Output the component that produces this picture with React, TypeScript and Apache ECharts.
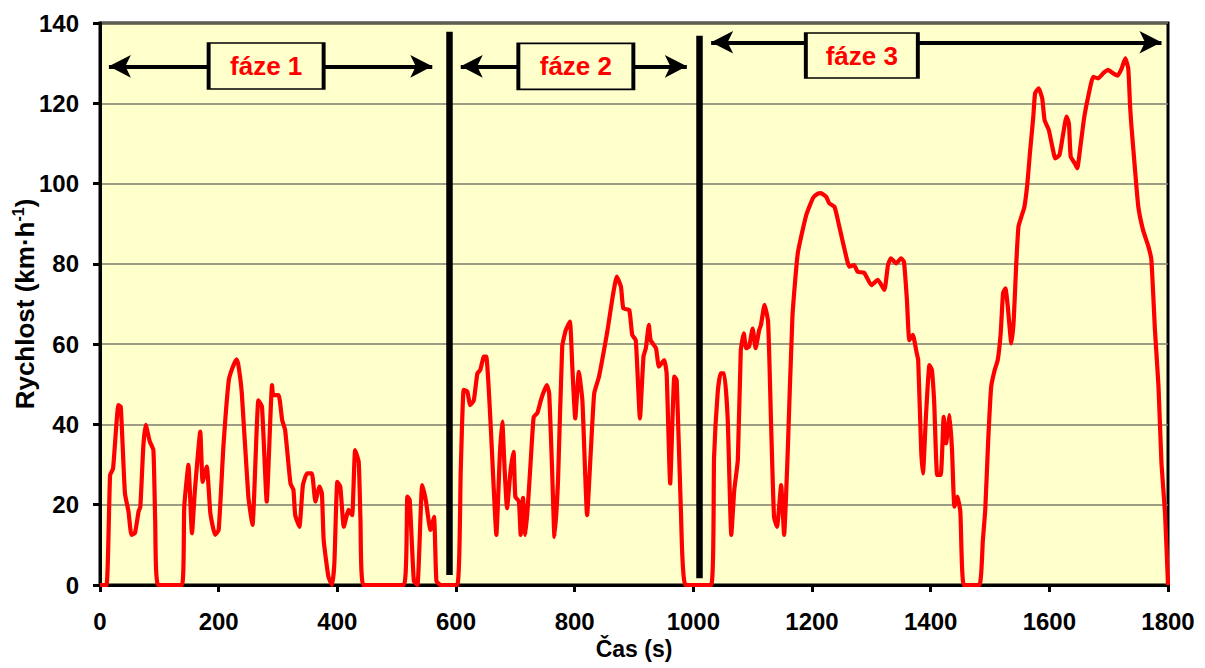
import React, { useEffect, useRef } from "react";
import * as echarts from "echarts";

// Time (s) and speed (km/h)
const times = [
  0, 11, 17, 22, 31, 35, 42, 48, 53, 59, 65, 68, 73, 77, 84, 90, 93, 98,
  138, 142, 149, 155, 160, 169, 173, 180, 186, 194, 200, 208, 217, 223, 230, 233,
  239, 250, 257, 267, 273, 281, 290, 292, 301, 307, 312, 321, 326, 329, 336, 342,
  349, 357, 363, 370, 374, 377, 385, 391, 395, 400, 405, 411, 419, 425, 430, 436,
  439, 444, 512, 518, 522, 529, 535, 543, 549, 557, 563, 567, 574,
  602, 608, 613, 619, 624, 630, 636, 641, 647, 651, 658, 664, 668, 674, 678, 682,
  686, 692, 697, 700, 706, 709, 713, 717, 721, 726, 731, 737, 743, 748, 753, 757,
  762, 766, 772, 779, 785, 792, 796, 801, 807, 813, 821, 827, 833, 841, 847, 855,
  864, 871, 878, 882, 892, 897, 903, 910, 916, 920, 925, 928, 937, 942, 951, 955,
  961, 968, 972, 979, 987, 1030,
  1035, 1041, 1046, 1052, 1058, 1064, 1069, 1075, 1080, 1085, 1089, 1094, 1100,
  1105, 1111, 1114, 1120, 1126, 1131, 1136, 1141, 1148, 1153, 1159, 1167, 1176,
  1190, 1202, 1210, 1215, 1224, 1229, 1238, 1246, 1255, 1263, 1271, 1277, 1288,
  1300, 1311, 1322, 1328, 1333, 1342, 1350, 1355, 1360, 1364, 1370, 1376, 1379,
  1384, 1387, 1392, 1398, 1402, 1406, 1411, 1417, 1422, 1426, 1432, 1436, 1440,
  1445, 1450, 1456, 1482, 1488, 1492, 1497, 1502, 1508, 1513, 1518, 1522, 1526,
  1530, 1536, 1540, 1544, 1548, 1553, 1558, 1563, 1567, 1573, 1576, 1582, 1588,
  1592, 1599, 1605, 1610, 1617, 1623, 1629, 1633, 1636, 1643, 1647, 1653, 1659,
  1666, 1674, 1682, 1691, 1699, 1707, 1715, 1722, 1728, 1733, 1736, 1738, 1744,
  1750, 1758, 1767, 1772, 1778, 1784, 1789, 1795, 1800,
];
const speeds = [
  0, 0, 27.4, 29, 44.8, 44.4, 22.9, 18.3, 12.5, 13, 18.3, 19.5, 34.5, 39.9, 35.7, 33.6, 16.2, 0,
  0, 19.5, 29.9, 12.9, 23.7, 38.2, 25.7, 29.5, 17.9, 12.5, 13.7, 34.5, 51, 54, 56.2, 55,
  47.8, 22, 15, 46, 44.4, 20.8, 49.8, 47.3, 47.3, 41.1, 38.6, 25.3, 23.7, 17.4, 14.5, 24.9,
  27.8, 27.8, 20.8, 24.5, 22.8, 11.2, 2, 0, 5.4, 25.7, 24.5, 14.5, 18.7, 17.4, 33.6, 30.7,
  16.2, 0, 0, 22, 21.2, 1, 0, 24.9, 21.2, 13.7, 17, 1, 0,
  0, 28.6, 48.6, 48.2, 44.8, 46, 52.7, 53.6, 56.9, 56.9, 41.1, 22.8, 12.5, 32.8, 40.7, 28.6,
  19.1, 28.6, 33.2, 22, 20.8, 12.5, 21.7, 12.5, 19.5, 31.1, 41.9, 42.8, 46, 48.2, 49.8, 47.8,
  28.6, 12, 26.2, 59.4, 63.5, 65.6, 54.4, 41.5, 53.1, 46, 17.4, 32.8, 47.8, 51.9, 56.5, 63.1,
  71.8, 76.8, 74.3, 68.9, 68.5, 62.3, 61, 41.5, 56.9, 59, 64.8, 61, 59, 54.4, 56, 52.7,
  25.3, 51.9, 51, 18.7, 0, 0,
  32, 47.8, 52.7, 52.7, 41.1, 12.5, 23.7, 31.1, 58.5, 62.7, 59, 59.4, 63.9,
  59, 63.5, 64.8, 69.8, 65.6, 40.3, 17, 14.5, 24.9, 12.5, 32.8, 66.8, 82.6,
  92, 96.5, 97.5, 97.6, 96.7, 95.1, 94.2, 89.3, 83.5, 79.3, 79.7, 78, 77.8,
  74.7, 76, 73.5, 79.7, 81.4, 80.1, 81.4, 80.5, 71, 61, 62.3, 58.1, 56,
  33.6, 27.8, 41.9, 54.8, 53.6, 45.3, 27.4, 27.4, 41.9, 35.3, 42.3, 33.6, 19.5,
  22, 18.3, 0, 0, 11.2, 18.7, 36.1, 49.4, 53.6, 56, 62.7, 72.7, 73.9,
  69.3, 60.2, 66, 79.3, 89.3, 91.8, 94.2, 100, 107.1, 116.7, 122.5, 123.7, 121.2,
  115.8, 113.4, 109.2, 106.3, 107.1, 112.1, 116.7, 115, 106.7, 105, 103.8, 110, 116.7,
  122, 126.6, 126.2, 127.5, 128.3, 127.5, 126.9, 128.7, 131.2, 128.7, 119.6, 115, 104.2,
  94.2, 88.4, 84.3, 81, 63.5, 49.4, 30.3, 17.9, 0,
];

const phaseLabels = ["fáze 1", "fáze 2", "fáze 3"];
const phaseBoundaries = [588, 1010];
const boundaryBottom = [2.5, 1.7];
const boundaryTop = [137.8, 136.8];
const arrowFrom = [15, 608, 1030];
const arrowTo = [560, 989, 1789];
const arrowLevel = [129.2, 129.2, 135.2];
const boxTime = [280, 802, 1284];
const boxLevel = [129.3, 129.2, 131.9];

const FONT = "'Liberation Sans', Arial, sans-serif";

export default function App() {
  const ref = useRef<HTMLDivElement>(null);

  useEffect(() => {
    if (!ref.current) return;
    const chart = echarts.init(ref.current, null, { renderer: "svg" });

    const lineData = times.map((t, i) => [t, speeds[i]]);

    const arrowLines = arrowFrom.map((a, i) => [
      { coord: [a, arrowLevel[i]] },
      { coord: [arrowTo[i], arrowLevel[i]] },
    ]);
    const boundaryLines = phaseBoundaries.map((b, i) => [
      {
        coord: [b, boundaryBottom[i]],
        symbol: "none",
        lineStyle: { width: 6.5, color: "#000", type: "solid" },
      },
      { coord: [b, boundaryTop[i]], symbol: "none" },
    ]);

    chart.setOption({
      animation: false,
      grid: {
        left: 100,
        top: 23,
        right: 37,
        bottom: 83,
        show: true,
        outerBoundsMode: "none",
        containLabel: false,
        backgroundColor: "#FFFFCC",
        borderColor: "#000",
        borderWidth: 3,
      },
      xAxis: {
        type: "value",
        min: 0,
        max: 1800,
        interval: 200,
        name: "Čas (s)",
        nameLocation: "middle",
        nameGap: 52,
        nameMoveOverlap: false,
        nameTextStyle: { fontFamily: FONT, fontWeight: "bold", fontSize: 23, color: "#000" },
        axisLine: { show: true, onZero: false, lineStyle: { color: "#000", width: 3 } },
        axisTick: { show: true, length: 7, lineStyle: { color: "#000", width: 3 } },
        axisLabel: {
          fontFamily: FONT,
          fontWeight: "bold",
          fontSize: 24,
          color: "#000",
          margin: 24,
          formatter: (v: number) => String(v),
        },
        splitLine: { show: false },
      },
      yAxis: {
        type: "value",
        min: 0,
        max: 140,
        interval: 20,
        name: "{a|Rychlost (km·h}{s|-1}{a|)}",
        nameLocation: "middle",
        nameGap: 60,
        nameMoveOverlap: false,
        nameRotate: 90,
        nameTextStyle: {
          fontFamily: FONT,
          fontWeight: "bold",
          fontSize: 26,
          color: "#000",
          rich: {
            a: { fontFamily: FONT, fontWeight: "bold", fontSize: 26, color: "#000", lineHeight: 30 },
            s: {
              fontFamily: FONT,
              fontWeight: "bold",
              fontSize: 16,
              color: "#000",
              verticalAlign: "top",
              lineHeight: 30,
              padding: [0, 0, 12, 0],
            },
          },
        },
        axisLine: { show: true, lineStyle: { color: "#000", width: 3 } },
        axisTick: { show: true, length: 7, lineStyle: { color: "#000", width: 3 } },
        axisLabel: {
          fontFamily: FONT,
          fontWeight: "bold",
          fontSize: 24,
          color: "#000",
          margin: 21,
          formatter: (v: number) => String(v),
        },
        splitLine: { show: true, lineStyle: { color: "#7d7d6c", width: 1.6 } },
      },
      series: [
        {
          type: "line",
          data: lineData,
          showSymbol: false,
          symbol: "none",
          smooth: 0.15,
          z: 3,
          lineStyle: { color: "#FF0000", width: 4.2, join: "round" },
          markLine: {
            silent: true,
            symbol: ["arrow", "arrow"],
            symbolSize: [17, 22],
            label: { show: false },
            lineStyle: { color: "#000", width: 4, type: "solid" },
            emphasis: { disabled: true },
            data: [...arrowLines, ...boundaryLines],
          },
        },
        {
          type: "scatter",
          z: 6,
          silent: true,
          symbol: "rect",
          data: phaseLabels.map((name, i) => ({
            value: [boxTime[i], boxLevel[i]],
            name,
            symbolSize: i === 2 ? [112, 45] : [115, 46],
          })),
          itemStyle: { color: "#FFFFCC", borderColor: "#000", borderWidth: 2.5, opacity: 1 },
          label: {
            show: true,
            position: "inside",
            formatter: (p: any) => p.name,
            fontFamily: FONT,
            fontWeight: "bold",
            fontSize: 26,
            color: "#FF0000",
          },
        },
      ],
    });

    return () => chart.dispose();
  }, []);

  return (
    <div
      ref={ref}
      style={{ position: "absolute", left: 0, top: 0, width: 1205, height: 668 }}
    />
  );
}
